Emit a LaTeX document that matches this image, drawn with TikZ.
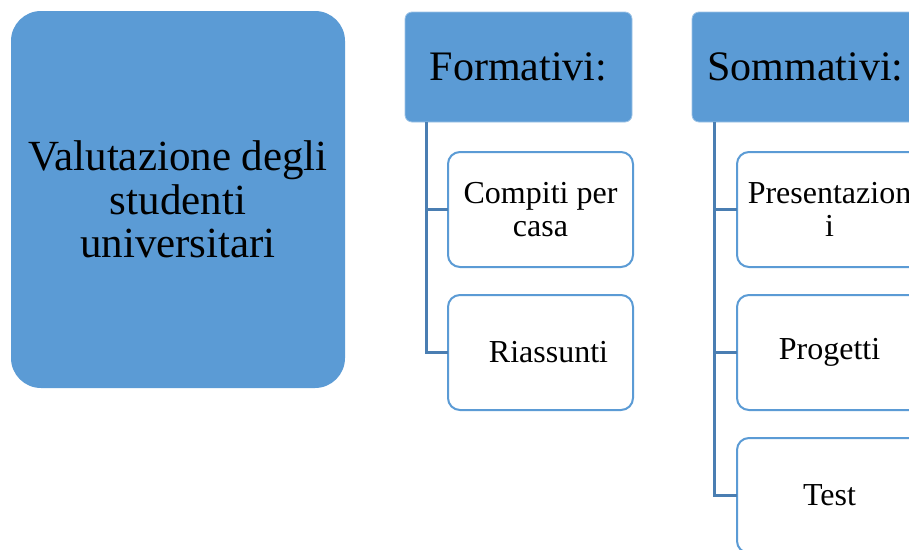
\documentclass[tikz,border=0pt]{standalone}
\usepackage{fontspec}
\setmainfont{Liberation Serif}
\definecolor{acc}{HTML}{5B9BD5}
\definecolor{conn}{HTML}{4A7EB2}
\begin{document}
\begin{tikzpicture}[x=1pt,y=-1pt,
  mainbox/.style={fill=acc, rounded corners=30pt, align=center, inner sep=0pt, outer sep=0pt,
    minimum width=334pt, minimum height=377pt, font=\fontsize{43}{43.5}\selectfont},
  headbox/.style={fill=acc, draw=acc!60!white, line width=0.8pt, rounded corners=7pt, align=center, inner sep=0pt, outer sep=0pt,
    minimum width=227pt, minimum height=110pt, font=\fontsize{42}{46}\selectfont},
  childbox/.style={fill=white, draw=acc, line width=2pt, rounded corners=12pt, align=center, inner sep=0pt, outer sep=0pt,
    minimum width=185pt, minimum height=115pt, font=\fontsize{32}{32.5}\selectfont},
  conline/.style={draw=conn, line width=3pt}]
\useasboundingbox (0,0) rectangle (909,549);
\clip (0,0) rectangle (909,549);
\fill[white] (0,0) rectangle (909,549);
\node[mainbox] (root) at (178,199.5) {Valutazione degli\\studenti\\universitari};
\node[headbox] (form) at (518.5,67) {Formativi:};
\node[headbox, yshift=0pt] (somm) at (805.5,67) {Sommativi:};
\node[childbox] (f1) at (540.5,209.5) {Compiti per\\casa};
\node[childbox] (f2) at (540.5,352.5) {\hspace*{16pt}Riassunti};
\node[childbox] (s1) at (829.5,209.5) {Presentazion\\i};
\node[childbox] (s2) at (829.5,352.5) {Progetti};
\node[childbox] (s3) at (829.5,495.5) {Test};
\draw[conline] ([xshift=21pt]form.south west) |- (f1.west);
\draw[conline] ([xshift=21pt]form.south west) |- (f2.west);
\draw[conline] ([xshift=22pt]somm.south west) |- (s1.west);
\draw[conline] ([xshift=22pt]somm.south west) |- (s2.west);
\draw[conline] ([xshift=22pt]somm.south west) |- (s3.west);
\end{tikzpicture}
\end{document}
